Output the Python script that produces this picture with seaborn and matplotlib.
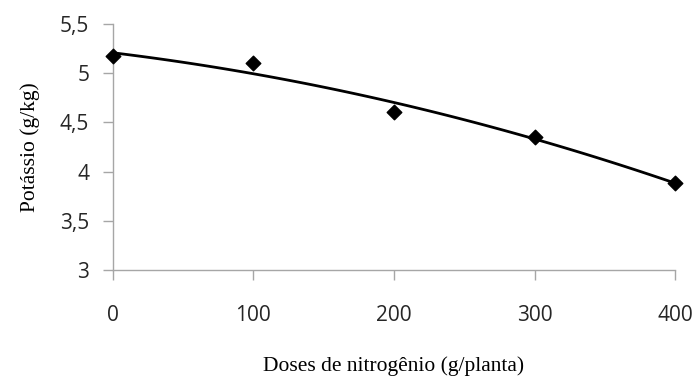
import matplotlib
matplotlib.use("Agg")
import matplotlib.pyplot as plt
import seaborn as sns
import pandas as pd

doses = [0, 100, 200, 300, 400]
potassio = [5.17, 5.10, 4.61, 4.35, 3.89]
x_ticks = [0, 100, 200, 300, 400]
y_ticks = [3, 3.5, 4, 4.5, 5, 5.5]
y_ticklabels = ["3", "3,5", "4", "4,5", "5", "5,5"]

df = pd.DataFrame({"dose": doses, "k": potassio})

sns.set_theme(style="white")
fig = plt.figure(figsize=(6.96, 3.8), dpi=100)
ax = fig.add_axes([0.162, 0.289, 0.808, 0.648])

sns.regplot(data=df, x="dose", y="k", order=2, ci=None, ax=ax,
            color="black", marker="D",
            scatter_kws={"s": 55, "clip_on": False, "zorder": 3, "alpha": 1},
            line_kws={"linewidth": 2, "clip_on": False})

ax.set_xlim(0, 400)
ax.set_ylim(3, 5.5)
ax.set_xticks(x_ticks)
ax.set_xticklabels([str(v) for v in x_ticks])
ax.set_yticks(y_ticks)
ax.set_yticklabels(y_ticklabels)

gray = "#a6a6a6"
for side in ["top", "right"]:
    ax.spines[side].set_visible(False)
for side in ["left", "bottom"]:
    ax.spines[side].set_color(gray)
    ax.spines[side].set_linewidth(1)

ax.tick_params(axis="both", which="major", direction="out", length=7, width=1,
               color=gray, labelsize=15, labelcolor="#262626",
               bottom=True, left=True)
ax.tick_params(axis="x", pad=18)
ax.tick_params(axis="y", pad=10)
for lab in ax.get_xticklabels() + ax.get_yticklabels():
    lab.set_fontfamily("Open Sans")

ax.set_xlabel("Doses de nitrogênio (g/planta)", fontfamily="Liberation Serif",
              fontsize=15.5, color="black", labelpad=22)
ax.set_ylabel("Potássio (g/kg)", fontfamily="Liberation Serif",
              fontsize=15.5, color="black", labelpad=14)

fig.savefig("out.png", dpi=100)
